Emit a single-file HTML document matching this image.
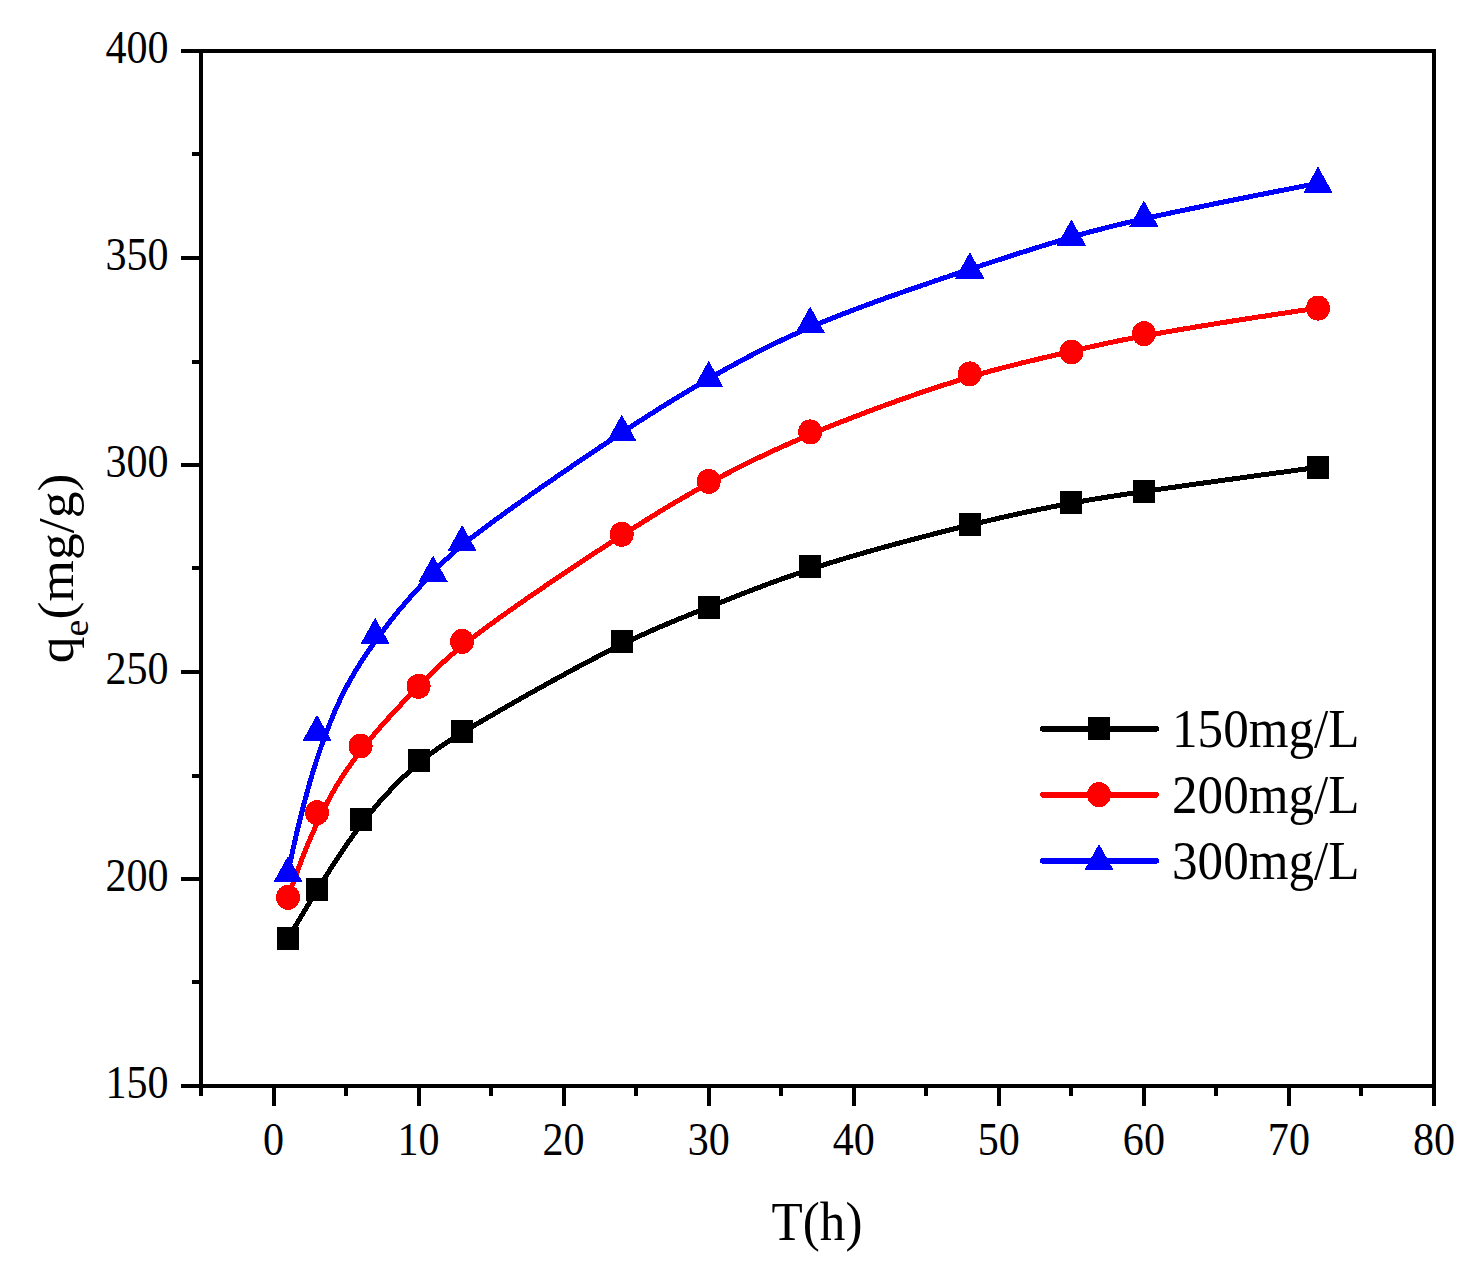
<!DOCTYPE html>
<html><head><meta charset="utf-8"><title>chart</title>
<style>
html,body{margin:0;padding:0;background:#fff;}
svg{display:block}
text{font-family:"Liberation Serif","Times New Roman",serif;fill:#000}
</style></head><body>
<svg width="1477" height="1286" viewBox="0 0 1477 1286">
<rect width="1477" height="1286" fill="#fff"/>
<g shape-rendering="crispEdges">
<polyline points="288.0,938.5 289.6,935.9 291.1,933.3 292.7,930.7 294.2,928.1 295.7,925.6 297.2,923.1 298.7,920.6 300.2,918.1 301.6,915.7 303.1,913.3 304.5,910.9 305.9,908.6 307.3,906.2 308.7,903.9 310.1,901.6 311.5,899.4 312.9,897.1 314.2,894.9 315.5,892.7 316.9,890.6 318.2,888.4 319.5,886.3 320.8,884.2 322.1,882.1 323.4,880.1 324.7,878.0 326.0,876.0 327.2,874.0 328.5,872.1 329.7,870.1 331.0,868.2 332.2,866.3 333.4,864.4 334.6,862.5 335.8,860.7 337.0,858.8 338.2,857.0 339.4,855.2 340.6,853.5 341.8,851.7 342.9,850.0 344.1,848.3 345.3,846.6 346.4,844.9 347.6,843.2 348.7,841.6 349.9,840.0 351.0,838.4 352.1,836.8 353.3,835.2 354.4,833.6 355.5,832.1 356.6,830.6 357.7,829.0 358.9,827.6 360.0,826.1 361.1,824.6 362.2,823.2 363.3,821.7 364.4,820.3 365.5,818.9 366.6,817.5 367.7,816.1 368.8,814.8 369.9,813.4 371.0,812.1 372.0,810.8 373.1,809.5 374.2,808.2 375.3,806.9 376.3,805.7 377.4,804.4 378.5,803.2 379.5,802.0 380.6,800.8 381.7,799.6 382.7,798.4 383.8,797.2 384.8,796.1 385.8,794.9 386.9,793.8 387.9,792.7 389.0,791.6 390.0,790.5 391.0,789.4 392.0,788.3 393.0,787.3 394.1,786.3 395.1,785.2 396.1,784.2 397.1,783.2 398.1,782.2 399.1,781.2 400.1,780.3 401.1,779.3 402.0,778.3 403.0,777.4 404.0,776.5 405.0,775.6 405.9,774.7 406.9,773.8 407.8,772.9 408.8,772.0 409.8,771.2 410.7,770.3 411.6,769.5 412.6,768.6 413.5,767.8 414.4,767.0 415.4,766.2 416.3,765.4 417.2,764.6 418.1,763.8 419.0,763.1 419.9,762.3 420.8,761.6 421.7,760.8 422.6,760.1 423.5,759.3 424.4,758.6 425.3,757.9 426.2,757.2 427.1,756.5 428.1,755.8 429.0,755.0 429.9,754.3 430.8,753.6 431.8,752.9 432.7,752.2 433.7,751.5 434.7,750.8 435.7,750.1 436.6,749.4 437.6,748.7 438.7,748.0 439.7,747.3 440.7,746.6 441.8,745.8 442.9,745.1 444.0,744.4 445.1,743.6 446.2,742.9 447.4,742.1 448.5,741.4 449.7,740.6 450.9,739.8 452.2,739.0 453.4,738.2 454.7,737.4 456.0,736.6 457.3,735.8 458.7,734.9 460.1,734.1 461.5,733.2 462.9,732.3 464.4,731.5 465.9,730.5 467.4,729.6 469.0,728.7 470.6,727.7 472.2,726.8 473.9,725.8 475.5,724.8 477.3,723.7 479.0,722.7 480.8,721.6 482.7,720.6 484.6,719.5 486.5,718.3 488.4,717.2 490.4,716.0 492.4,714.9 494.4,713.7 496.5,712.5 498.6,711.3 500.7,710.0 502.9,708.8 505.1,707.5 507.3,706.3 509.5,705.0 511.8,703.7 514.1,702.4 516.4,701.1 518.7,699.8 521.0,698.4 523.4,697.1 525.7,695.8 528.1,694.4 530.5,693.1 532.9,691.7 535.3,690.4 537.8,689.0 540.2,687.6 542.7,686.3 545.1,684.9 547.6,683.6 550.0,682.2 552.5,680.8 555.0,679.5 557.5,678.1 559.9,676.7 562.4,675.4 564.9,674.1 567.4,672.7 569.8,671.4 572.3,670.1 574.7,668.7 577.2,667.4 579.6,666.1 582.1,664.8 584.5,663.5 586.9,662.3 589.3,661.0 591.7,659.8 594.0,658.5 596.4,657.3 598.7,656.1 601.0,654.9 603.3,653.7 605.6,652.6 607.8,651.4 610.1,650.3 612.3,649.2 614.5,648.1 616.6,647.0 618.8,646.0 620.9,644.9 623.0,643.9 625.1,642.9 627.1,641.9 629.2,641.0 631.2,640.0 633.2,639.1 635.2,638.1 637.1,637.2 639.1,636.3 641.0,635.4 642.9,634.6 644.8,633.7 646.7,632.8 648.6,632.0 650.4,631.2 652.3,630.4 654.1,629.5 655.9,628.7 657.7,628.0 659.5,627.2 661.3,626.4 663.1,625.7 664.9,624.9 666.6,624.2 668.4,623.4 670.1,622.7 671.8,622.0 673.6,621.3 675.3,620.5 677.0,619.8 678.7,619.1 680.4,618.4 682.1,617.7 683.8,617.1 685.5,616.4 687.2,615.7 688.9,615.0 690.5,614.3 692.2,613.7 693.9,613.0 695.6,612.3 697.3,611.7 698.9,611.0 700.6,610.3 702.3,609.7 704.0,609.0 705.7,608.3 707.4,607.7 709.0,607.0 710.7,606.3 712.4,605.6 714.2,605.0 715.9,604.3 717.6,603.6 719.3,602.9 721.0,602.2 722.8,601.5 724.5,600.9 726.3,600.2 728.0,599.5 729.8,598.8 731.5,598.1 733.3,597.4 735.1,596.7 736.9,596.0 738.7,595.2 740.5,594.5 742.3,593.8 744.2,593.1 746.0,592.4 747.9,591.7 749.7,591.0 751.6,590.2 753.5,589.5 755.4,588.8 757.3,588.1 759.2,587.4 761.1,586.6 763.0,585.9 765.0,585.2 766.9,584.4 768.9,583.7 770.9,583.0 772.9,582.2 774.9,581.5 776.9,580.8 779.0,580.0 781.0,579.3 783.1,578.6 785.2,577.8 787.3,577.1 789.4,576.3 791.5,575.6 793.7,574.8 795.8,574.1 798.0,573.3 800.2,572.6 802.4,571.9 804.6,571.1 806.9,570.4 809.1,569.6 811.4,568.9 813.7,568.1 816.0,567.4 818.4,566.6 820.7,565.8 823.1,565.1 825.5,564.3 827.9,563.6 830.3,562.8 832.7,562.1 835.2,561.3 837.6,560.6 840.1,559.8 842.6,559.1 845.1,558.3 847.7,557.6 850.2,556.8 852.7,556.1 855.3,555.3 857.8,554.6 860.4,553.9 863.0,553.1 865.6,552.4 868.1,551.6 870.7,550.9 873.3,550.2 875.9,549.4 878.6,548.7 881.2,548.0 883.8,547.3 886.4,546.5 889.0,545.8 891.6,545.1 894.2,544.4 896.9,543.7 899.5,543.0 902.1,542.3 904.7,541.6 907.3,540.9 909.9,540.2 912.5,539.5 915.1,538.8 917.7,538.2 920.2,537.5 922.8,536.8 925.4,536.2 927.9,535.5 930.4,534.9 933.0,534.2 935.5,533.6 938.0,532.9 940.5,532.3 943.0,531.7 945.4,531.1 947.9,530.4 950.3,529.8 952.7,529.2 955.1,528.6 957.5,528.0 959.9,527.5 962.2,526.9 964.6,526.3 966.9,525.8 969.2,525.2 971.4,524.6 973.7,524.1 975.9,523.6 978.2,523.0 980.4,522.5 982.6,522.0 984.7,521.5 986.9,521.0 989.1,520.5 991.2,520.0 993.3,519.5 995.4,519.0 997.5,518.5 999.6,518.0 1001.7,517.5 1003.7,517.1 1005.8,516.6 1007.8,516.2 1009.9,515.7 1011.9,515.3 1013.9,514.8 1015.9,514.4 1017.9,513.9 1019.9,513.5 1021.8,513.1 1023.8,512.7 1025.8,512.2 1027.7,511.8 1029.6,511.4 1031.6,511.0 1033.5,510.6 1035.4,510.2 1037.4,509.8 1039.3,509.4 1041.2,509.0 1043.1,508.6 1045.0,508.3 1046.9,507.9 1048.8,507.5 1050.7,507.1 1052.6,506.8 1054.5,506.4 1056.4,506.0 1058.3,505.7 1060.2,505.3 1062.0,504.9 1063.9,504.6 1065.8,504.2 1067.7,503.9 1069.6,503.5 1071.5,503.2 1073.4,502.8 1075.3,502.5 1077.2,502.1 1079.1,501.8 1081.1,501.4 1083.1,501.1 1085.0,500.7 1087.1,500.4 1089.1,500.0 1091.3,499.7 1093.4,499.3 1095.6,498.9 1097.9,498.6 1100.2,498.2 1102.6,497.8 1105.1,497.4 1107.6,497.0 1110.3,496.6 1113.0,496.2 1115.8,495.7 1118.7,495.3 1121.7,494.8 1124.8,494.3 1128.0,493.9 1131.3,493.4 1134.8,492.8 1138.4,492.3 1142.1,491.8 1145.9,491.2 1149.9,490.6 1154.0,490.0 1158.3,489.4 1162.7,488.8 1167.3,488.1 1172.0,487.5 1177.0,486.8 1182.1,486.0 1187.3,485.3 1192.8,484.5 1198.4,483.7 1204.2,482.9 1210.3,482.1 1216.5,481.2 1222.9,480.3 1229.6,479.4 1236.4,478.5 1243.5,477.5 1250.8,476.5 1258.3,475.4 1266.1,474.4 1274.1,473.3 1282.4,472.2 1290.9,471.0 1299.6,469.8 1308.7,468.6 1318.0,467.3" fill="none" stroke="#000" stroke-width="5" stroke-linejoin="round"/>
<rect x="277.0" y="927.0" width="22" height="23" fill="#000"/>
<rect x="306.0" y="878.0" width="22" height="23" fill="#000"/>
<rect x="349.6" y="807.5" width="22" height="23" fill="#000"/>
<rect x="407.6" y="749.1" width="22" height="23" fill="#000"/>
<rect x="451.1" y="720.0" width="22" height="23" fill="#000"/>
<rect x="610.7" y="629.6" width="22" height="23" fill="#000"/>
<rect x="697.7" y="595.9" width="22" height="23" fill="#000"/>
<rect x="799.2" y="554.8" width="22" height="23" fill="#000"/>
<rect x="958.8" y="512.5" width="22" height="23" fill="#000"/>
<rect x="1060.4" y="490.6" width="22" height="23" fill="#000"/>
<rect x="1132.9" y="479.5" width="22" height="23" fill="#000"/>
<rect x="1307.0" y="455.8" width="22" height="23" fill="#000"/>
<polyline points="288.0,897.3 289.6,892.8 291.1,888.3 292.7,884.0 294.2,879.8 295.7,875.6 297.2,871.6 298.7,867.6 300.2,863.7 301.6,860.0 303.1,856.3 304.5,852.7 305.9,849.1 307.3,845.7 308.7,842.3 310.1,839.0 311.5,835.8 312.9,832.7 314.2,829.6 315.5,826.6 316.9,823.7 318.2,820.8 319.5,818.0 320.8,815.3 322.1,812.6 323.4,810.0 324.7,807.5 326.0,805.0 327.2,802.6 328.5,800.2 329.7,797.9 331.0,795.7 332.2,793.5 333.4,791.3 334.6,789.2 335.8,787.2 337.0,785.1 338.2,783.2 339.4,781.2 340.6,779.4 341.8,777.5 342.9,775.7 344.1,773.9 345.3,772.2 346.4,770.5 347.6,768.8 348.7,767.1 349.9,765.5 351.0,763.9 352.1,762.4 353.3,760.8 354.4,759.3 355.5,757.8 356.6,756.3 357.7,754.8 358.9,753.4 360.0,751.9 361.1,750.5 362.2,749.1 363.3,747.7 364.4,746.3 365.5,744.9 366.6,743.6 367.7,742.2 368.8,740.9 369.9,739.5 371.0,738.2 372.0,736.9 373.1,735.6 374.2,734.3 375.3,733.1 376.3,731.8 377.4,730.6 378.5,729.3 379.5,728.1 380.6,726.9 381.7,725.7 382.7,724.5 383.8,723.3 384.8,722.1 385.8,720.9 386.9,719.8 387.9,718.6 389.0,717.5 390.0,716.4 391.0,715.2 392.0,714.1 393.0,713.0 394.1,711.9 395.1,710.8 396.1,709.7 397.1,708.7 398.1,707.6 399.1,706.6 400.1,705.5 401.1,704.5 402.0,703.4 403.0,702.4 404.0,701.4 405.0,700.4 405.9,699.4 406.9,698.4 407.8,697.4 408.8,696.4 409.8,695.4 410.7,694.4 411.6,693.4 412.6,692.5 413.5,691.5 414.4,690.6 415.4,689.6 416.3,688.7 417.2,687.7 418.1,686.8 419.0,685.9 419.9,684.9 420.8,684.0 421.7,683.1 422.6,682.2 423.5,681.2 424.4,680.3 425.3,679.4 426.2,678.5 427.1,677.6 428.1,676.6 429.0,675.7 429.9,674.8 430.8,673.9 431.8,673.0 432.7,672.0 433.7,671.1 434.7,670.2 435.7,669.2 436.6,668.3 437.6,667.3 438.7,666.4 439.7,665.4 440.7,664.4 441.8,663.5 442.9,662.5 444.0,661.5 445.1,660.5 446.2,659.5 447.4,658.5 448.5,657.4 449.7,656.4 450.9,655.4 452.2,654.3 453.4,653.2 454.7,652.1 456.0,651.1 457.3,649.9 458.7,648.8 460.1,647.7 461.5,646.5 462.9,645.4 464.4,644.2 465.9,643.0 467.4,641.8 469.0,640.6 470.6,639.3 472.2,638.1 473.9,636.8 475.5,635.5 477.3,634.2 479.0,632.8 480.8,631.5 482.7,630.1 484.6,628.7 486.5,627.3 488.4,625.9 490.4,624.4 492.4,623.0 494.4,621.5 496.5,620.0 498.6,618.5 500.7,616.9 502.9,615.4 505.1,613.8 507.3,612.3 509.5,610.7 511.8,609.1 514.1,607.5 516.4,605.9 518.7,604.3 521.0,602.7 523.4,601.0 525.7,599.4 528.1,597.7 530.5,596.1 532.9,594.4 535.3,592.8 537.8,591.1 540.2,589.4 542.7,587.8 545.1,586.1 547.6,584.4 550.0,582.8 552.5,581.1 555.0,579.4 557.5,577.8 559.9,576.1 562.4,574.4 564.9,572.8 567.4,571.1 569.8,569.5 572.3,567.8 574.7,566.2 577.2,564.6 579.6,563.0 582.1,561.4 584.5,559.8 586.9,558.2 589.3,556.6 591.7,555.0 594.0,553.5 596.4,551.9 598.7,550.4 601.0,548.9 603.3,547.4 605.6,545.9 607.8,544.5 610.1,543.0 612.3,541.6 614.5,540.2 616.6,538.8 618.8,537.4 620.9,536.0 623.0,534.7 625.1,533.4 627.1,532.0 629.2,530.7 631.2,529.5 633.2,528.2 635.2,526.9 637.1,525.7 639.1,524.5 641.0,523.2 642.9,522.0 644.8,520.8 646.7,519.7 648.6,518.5 650.4,517.3 652.3,516.2 654.1,515.1 655.9,514.0 657.7,512.8 659.5,511.8 661.3,510.7 663.1,509.6 664.9,508.5 666.6,507.5 668.4,506.4 670.1,505.4 671.8,504.3 673.6,503.3 675.3,502.3 677.0,501.3 678.7,500.3 680.4,499.3 682.1,498.3 683.8,497.3 685.5,496.3 687.2,495.4 688.9,494.4 690.5,493.4 692.2,492.5 693.9,491.5 695.6,490.6 697.3,489.6 698.9,488.7 700.6,487.7 702.3,486.8 704.0,485.9 705.7,484.9 707.4,484.0 709.0,483.1 710.7,482.2 712.4,481.2 714.2,480.3 715.9,479.4 717.6,478.5 719.3,477.6 721.0,476.6 722.8,475.7 724.5,474.8 726.3,473.9 728.0,473.0 729.8,472.1 731.5,471.1 733.3,470.2 735.1,469.3 736.9,468.4 738.7,467.5 740.5,466.6 742.3,465.7 744.2,464.7 746.0,463.8 747.9,462.9 749.7,462.0 751.6,461.1 753.5,460.2 755.4,459.2 757.3,458.3 759.2,457.4 761.1,456.5 763.0,455.6 765.0,454.7 766.9,453.7 768.9,452.8 770.9,451.9 772.9,451.0 774.9,450.0 776.9,449.1 779.0,448.2 781.0,447.2 783.1,446.3 785.2,445.4 787.3,444.4 789.4,443.5 791.5,442.6 793.7,441.6 795.8,440.7 798.0,439.7 800.2,438.8 802.4,437.8 804.6,436.9 806.9,435.9 809.1,435.0 811.4,434.0 813.7,433.1 816.0,432.1 818.4,431.1 820.7,430.2 823.1,429.2 825.5,428.2 827.9,427.2 830.3,426.3 832.7,425.3 835.2,424.3 837.6,423.3 840.1,422.3 842.6,421.4 845.1,420.4 847.7,419.4 850.2,418.4 852.7,417.4 855.3,416.4 857.8,415.5 860.4,414.5 863.0,413.5 865.6,412.5 868.1,411.5 870.7,410.6 873.3,409.6 875.9,408.6 878.6,407.7 881.2,406.7 883.8,405.7 886.4,404.8 889.0,403.8 891.6,402.9 894.2,402.0 896.9,401.0 899.5,400.1 902.1,399.2 904.7,398.2 907.3,397.3 909.9,396.4 912.5,395.5 915.1,394.6 917.7,393.7 920.2,392.9 922.8,392.0 925.4,391.1 927.9,390.3 930.4,389.4 933.0,388.6 935.5,387.8 938.0,386.9 940.5,386.1 943.0,385.3 945.4,384.5 947.9,383.7 950.3,383.0 952.7,382.2 955.1,381.5 957.5,380.7 959.9,380.0 962.2,379.3 964.6,378.6 966.9,377.9 969.2,377.2 971.4,376.5 973.7,375.9 975.9,375.2 978.2,374.6 980.4,373.9 982.6,373.3 984.7,372.7 986.9,372.1 989.1,371.5 991.2,370.9 993.3,370.4 995.4,369.8 997.5,369.2 999.6,368.7 1001.7,368.1 1003.7,367.6 1005.8,367.1 1007.8,366.5 1009.9,366.0 1011.9,365.5 1013.9,365.0 1015.9,364.5 1017.9,364.0 1019.9,363.5 1021.8,363.0 1023.8,362.5 1025.8,362.1 1027.7,361.6 1029.6,361.1 1031.6,360.7 1033.5,360.2 1035.4,359.7 1037.4,359.3 1039.3,358.8 1041.2,358.4 1043.1,357.9 1045.0,357.5 1046.9,357.0 1048.8,356.6 1050.7,356.2 1052.6,355.7 1054.5,355.3 1056.4,354.8 1058.3,354.4 1060.2,354.0 1062.0,353.5 1063.9,353.1 1065.8,352.6 1067.7,352.2 1069.6,351.8 1071.5,351.3 1073.4,350.9 1075.3,350.4 1077.2,350.0 1079.1,349.5 1081.1,349.1 1083.1,348.6 1085.0,348.1 1087.1,347.7 1089.1,347.2 1091.3,346.7 1093.4,346.2 1095.6,345.7 1097.9,345.2 1100.2,344.7 1102.6,344.2 1105.1,343.7 1107.6,343.1 1110.3,342.6 1113.0,342.0 1115.8,341.4 1118.7,340.8 1121.7,340.2 1124.8,339.6 1128.0,339.0 1131.3,338.3 1134.8,337.7 1138.4,337.0 1142.1,336.3 1145.9,335.6 1149.9,334.9 1154.0,334.1 1158.3,333.4 1162.7,332.6 1167.3,331.8 1172.0,331.0 1177.0,330.1 1182.1,329.2 1187.3,328.4 1192.8,327.5 1198.4,326.5 1204.2,325.6 1210.3,324.6 1216.5,323.6 1222.9,322.6 1229.6,321.5 1236.4,320.4 1243.5,319.3 1250.8,318.2 1258.3,317.0 1266.1,315.9 1274.1,314.6 1282.4,313.4 1290.9,312.1 1299.6,310.8 1308.7,309.5 1318.0,308.1" fill="none" stroke="#f00" stroke-width="5" stroke-linejoin="round"/>
<ellipse cx="288.0" cy="897.3" rx="12" ry="12.5" fill="#f00"/>
<ellipse cx="317.0" cy="812.7" rx="12" ry="12.5" fill="#f00"/>
<ellipse cx="360.6" cy="746.0" rx="12" ry="12.5" fill="#f00"/>
<ellipse cx="418.6" cy="686.3" rx="12" ry="12.5" fill="#f00"/>
<ellipse cx="462.1" cy="641.4" rx="12" ry="12.5" fill="#f00"/>
<ellipse cx="621.7" cy="534.3" rx="12" ry="12.5" fill="#f00"/>
<ellipse cx="708.7" cy="481.4" rx="12" ry="12.5" fill="#f00"/>
<ellipse cx="810.2" cy="431.9" rx="12" ry="12.5" fill="#f00"/>
<ellipse cx="969.8" cy="373.9" rx="12" ry="12.5" fill="#f00"/>
<ellipse cx="1071.4" cy="352.0" rx="12" ry="12.5" fill="#f00"/>
<ellipse cx="1143.9" cy="333.7" rx="12" ry="12.5" fill="#f00"/>
<ellipse cx="1318.0" cy="308.1" rx="12" ry="12.5" fill="#f00"/>
<polyline points="288.0,872.7 289.6,865.1 291.2,857.8 292.7,850.6 294.3,843.6 295.9,836.7 297.4,830.0 299.0,823.5 300.6,817.1 302.1,810.9 303.7,804.9 305.3,799.0 306.8,793.2 308.4,787.7 309.9,782.2 311.5,776.9 313.0,771.7 314.6,766.7 316.1,761.8 317.7,757.0 319.2,752.4 320.7,747.9 322.3,743.5 323.8,739.2 325.3,735.1 326.8,731.0 328.4,727.1 329.9,723.3 331.4,719.6 332.9,715.9 334.4,712.4 335.9,709.0 337.3,705.7 338.8,702.5 340.3,699.3 341.8,696.3 343.2,693.3 344.7,690.4 346.1,687.6 347.6,684.9 349.0,682.2 350.4,679.7 351.9,677.1 353.3,674.7 354.7,672.3 356.1,670.0 357.5,667.7 358.9,665.4 360.2,663.3 361.6,661.1 363.0,659.1 364.3,657.0 365.7,655.0 367.0,653.0 368.3,651.1 369.7,649.2 371.0,647.3 372.3,645.5 373.5,643.7 374.8,641.9 376.1,640.1 377.4,638.4 378.6,636.7 379.8,635.0 381.1,633.3 382.3,631.7 383.5,630.1 384.7,628.5 385.9,626.9 387.1,625.4 388.3,623.8 389.4,622.3 390.6,620.9 391.7,619.4 392.9,618.0 394.0,616.6 395.1,615.2 396.2,613.8 397.3,612.4 398.4,611.1 399.5,609.8 400.6,608.5 401.6,607.3 402.7,606.0 403.7,604.8 404.8,603.6 405.8,602.4 406.8,601.2 407.8,600.0 408.8,598.9 409.8,597.8 410.8,596.6 411.7,595.5 412.7,594.5 413.7,593.4 414.6,592.4 415.5,591.3 416.4,590.3 417.4,589.3 418.3,588.3 419.2,587.4 420.0,586.4 420.9,585.4 421.8,584.5 422.6,583.6 423.5,582.7 424.3,581.8 425.1,580.9 426.0,580.0 426.8,579.2 427.6,578.3 428.3,577.5 429.1,576.6 429.9,575.8 430.7,575.0 431.4,574.2 432.2,573.4 432.9,572.6 433.7,571.8 434.4,571.1 435.1,570.3 435.9,569.5 436.6,568.8 437.3,568.0 438.1,567.2 438.8,566.5 439.6,565.7 440.3,565.0 441.1,564.2 441.9,563.4 442.6,562.7 443.4,561.9 444.2,561.2 445.0,560.4 445.8,559.6 446.6,558.9 447.5,558.1 448.3,557.3 449.2,556.5 450.1,555.7 451.0,554.9 451.9,554.1 452.8,553.2 453.8,552.4 454.7,551.5 455.7,550.7 456.8,549.8 457.8,548.9 458.9,548.0 460.0,547.1 461.1,546.2 462.2,545.2 463.4,544.3 464.6,543.3 465.8,542.3 467.1,541.3 468.4,540.3 469.7,539.2 471.1,538.2 472.5,537.1 473.9,536.0 475.4,534.8 476.9,533.7 478.4,532.5 480.0,531.3 481.6,530.1 483.3,528.8 485.0,527.6 486.8,526.3 488.5,524.9 490.4,523.6 492.2,522.2 494.1,520.8 496.1,519.4 498.1,518.0 500.1,516.5 502.1,515.0 504.2,513.5 506.3,512.0 508.4,510.5 510.6,509.0 512.7,507.4 515.0,505.8 517.2,504.3 519.4,502.7 521.7,501.0 524.0,499.4 526.3,497.8 528.7,496.2 531.0,494.5 533.4,492.8 535.8,491.2 538.1,489.5 540.5,487.8 543.0,486.2 545.4,484.5 547.8,482.8 550.3,481.1 552.7,479.4 555.2,477.7 557.6,476.0 560.1,474.3 562.5,472.6 565.0,471.0 567.4,469.3 569.9,467.6 572.3,465.9 574.8,464.3 577.2,462.6 579.7,460.9 582.1,459.3 584.5,457.7 586.9,456.0 589.3,454.4 591.7,452.8 594.0,451.2 596.4,449.6 598.7,448.1 601.0,446.5 603.3,445.0 605.6,443.5 607.8,442.0 610.1,440.5 612.3,439.0 614.5,437.6 616.6,436.1 618.8,434.7 620.9,433.3 623.0,431.9 625.1,430.6 627.1,429.2 629.2,427.9 631.2,426.6 633.2,425.3 635.2,424.0 637.1,422.7 639.1,421.4 641.0,420.2 642.9,419.0 644.8,417.7 646.7,416.5 648.6,415.3 650.4,414.1 652.3,413.0 654.1,411.8 655.9,410.7 657.7,409.5 659.5,408.4 661.3,407.3 663.1,406.2 664.9,405.1 666.6,404.0 668.4,402.9 670.1,401.8 671.8,400.8 673.6,399.7 675.3,398.6 677.0,397.6 678.7,396.6 680.4,395.5 682.1,394.5 683.8,393.5 685.5,392.5 687.2,391.5 688.9,390.5 690.5,389.5 692.2,388.5 693.9,387.5 695.6,386.5 697.3,385.5 698.9,384.5 700.6,383.5 702.3,382.5 704.0,381.6 705.7,380.6 707.4,379.6 709.0,378.6 710.7,377.7 712.4,376.7 714.2,375.7 715.9,374.7 717.6,373.7 719.3,372.8 721.0,371.8 722.8,370.8 724.5,369.8 726.3,368.9 728.0,367.9 729.8,366.9 731.5,365.9 733.3,365.0 735.1,364.0 736.9,363.0 738.7,362.0 740.5,361.0 742.3,360.1 744.2,359.1 746.0,358.1 747.9,357.1 749.7,356.2 751.6,355.2 753.5,354.2 755.4,353.2 757.3,352.2 759.2,351.3 761.1,350.3 763.0,349.3 765.0,348.3 766.9,347.4 768.9,346.4 770.9,345.4 772.9,344.4 774.9,343.4 776.9,342.5 779.0,341.5 781.0,340.5 783.1,339.5 785.2,338.5 787.3,337.6 789.4,336.6 791.5,335.6 793.7,334.6 795.8,333.7 798.0,332.7 800.2,331.7 802.4,330.7 804.6,329.7 806.9,328.8 809.1,327.8 811.4,326.8 813.7,325.8 816.0,324.8 818.4,323.9 820.7,322.9 823.1,321.9 825.5,320.9 827.9,320.0 830.3,319.0 832.7,318.0 835.2,317.0 837.6,316.1 840.1,315.1 842.6,314.1 845.1,313.1 847.7,312.2 850.2,311.2 852.7,310.2 855.3,309.3 857.8,308.3 860.4,307.3 863.0,306.4 865.6,305.4 868.1,304.5 870.7,303.5 873.3,302.6 875.9,301.6 878.6,300.7 881.2,299.7 883.8,298.8 886.4,297.8 889.0,296.9 891.6,296.0 894.2,295.1 896.9,294.1 899.5,293.2 902.1,292.3 904.7,291.4 907.3,290.5 909.9,289.6 912.5,288.7 915.1,287.8 917.7,286.9 920.2,286.0 922.8,285.1 925.4,284.3 927.9,283.4 930.4,282.5 933.0,281.7 935.5,280.8 938.0,280.0 940.5,279.1 943.0,278.3 945.4,277.5 947.9,276.7 950.3,275.8 952.7,275.0 955.1,274.2 957.5,273.4 959.9,272.7 962.2,271.9 964.6,271.1 966.9,270.3 969.2,269.6 971.4,268.8 973.7,268.1 975.9,267.3 978.2,266.6 980.4,265.9 982.6,265.1 984.7,264.4 986.9,263.7 989.1,263.0 991.2,262.3 993.3,261.6 995.4,260.9 997.5,260.2 999.6,259.5 1001.7,258.9 1003.7,258.2 1005.8,257.5 1007.8,256.9 1009.9,256.2 1011.9,255.6 1013.9,254.9 1015.9,254.3 1017.9,253.7 1019.9,253.0 1021.8,252.4 1023.8,251.8 1025.8,251.2 1027.7,250.5 1029.6,249.9 1031.6,249.3 1033.5,248.7 1035.4,248.1 1037.4,247.5 1039.3,246.9 1041.2,246.3 1043.1,245.7 1045.0,245.2 1046.9,244.6 1048.8,244.0 1050.7,243.4 1052.6,242.8 1054.5,242.3 1056.4,241.7 1058.3,241.1 1060.2,240.6 1062.0,240.0 1063.9,239.5 1065.8,238.9 1067.7,238.3 1069.6,237.8 1071.5,237.2 1073.4,236.7 1075.3,236.1 1077.2,235.6 1079.1,235.0 1081.1,234.5 1083.1,233.9 1085.0,233.3 1087.1,232.8 1089.1,232.2 1091.3,231.6 1093.4,231.1 1095.6,230.5 1097.9,229.9 1100.2,229.3 1102.6,228.6 1105.1,228.0 1107.6,227.4 1110.3,226.7 1113.0,226.0 1115.8,225.3 1118.7,224.6 1121.7,223.9 1124.8,223.2 1128.0,222.4 1131.3,221.7 1134.8,220.9 1138.4,220.1 1142.1,219.2 1145.9,218.4 1149.9,217.5 1154.0,216.6 1158.3,215.6 1162.7,214.7 1167.3,213.7 1172.0,212.7 1177.0,211.6 1182.1,210.6 1187.3,209.5 1192.8,208.3 1198.4,207.2 1204.2,206.0 1210.3,204.7 1216.5,203.4 1222.9,202.1 1229.6,200.8 1236.4,199.4 1243.5,198.0 1250.8,196.5 1258.3,195.0 1266.1,193.5 1274.1,191.9 1282.4,190.3 1290.9,188.6 1299.6,186.9 1308.7,185.1 1318.0,183.3" fill="none" stroke="#00f" stroke-width="5" stroke-linejoin="round"/>
<polygon points="273.4,882.2 302.6,882.2 288.0,855.9" fill="#00f"/>
<polygon points="302.4,741.0 331.6,741.0 317.0,714.7" fill="#00f"/>
<polygon points="360.5,644.0 389.7,644.0 375.1,617.7" fill="#00f"/>
<polygon points="418.5,581.8 447.7,581.8 433.1,555.5" fill="#00f"/>
<polygon points="447.5,551.2 476.7,551.2 462.1,524.9" fill="#00f"/>
<polygon points="607.1,440.9 636.3,440.9 621.7,414.6" fill="#00f"/>
<polygon points="694.1,387.0 723.3,387.0 708.7,360.7" fill="#00f"/>
<polygon points="795.6,332.7 824.8,332.7 810.2,306.4" fill="#00f"/>
<polygon points="955.2,278.5 984.4,278.5 969.8,252.2" fill="#00f"/>
<polygon points="1056.8,245.7 1086.0,245.7 1071.4,219.4" fill="#00f"/>
<polygon points="1129.3,226.7 1158.5,226.7 1143.9,200.4" fill="#00f"/>
<polygon points="1303.4,192.8 1332.6,192.8 1318.0,166.5" fill="#00f"/>
</g>
<g shape-rendering="crispEdges" fill="#000">
<rect x="199" y="49" width="1237" height="4"/>
<rect x="199" y="1084" width="1237" height="4"/>
<rect x="199" y="49" width="4" height="1039"/>
<rect x="1432" y="49" width="4" height="1039"/>
<rect x="181" y="1084" width="18" height="4"/>
<rect x="192" y="980" width="7" height="4"/>
<rect x="181" y="877" width="18" height="4"/>
<rect x="192" y="774" width="7" height="4"/>
<rect x="181" y="670" width="18" height="4"/>
<rect x="192" y="566" width="7" height="4"/>
<rect x="181" y="463" width="18" height="4"/>
<rect x="192" y="360" width="7" height="4"/>
<rect x="181" y="256" width="18" height="4"/>
<rect x="192" y="152" width="7" height="4"/>
<rect x="181" y="49" width="18" height="4"/>
<rect x="199" y="1088" width="4" height="8"/>
<rect x="272" y="1088" width="4" height="18"/>
<rect x="344" y="1088" width="4" height="8"/>
<rect x="417" y="1088" width="4" height="18"/>
<rect x="489" y="1088" width="4" height="8"/>
<rect x="562" y="1088" width="4" height="18"/>
<rect x="634" y="1088" width="4" height="8"/>
<rect x="707" y="1088" width="4" height="18"/>
<rect x="779" y="1088" width="4" height="8"/>
<rect x="852" y="1088" width="4" height="18"/>
<rect x="924" y="1088" width="4" height="8"/>
<rect x="997" y="1088" width="4" height="18"/>
<rect x="1069" y="1088" width="4" height="8"/>
<rect x="1142" y="1088" width="4" height="18"/>
<rect x="1214" y="1088" width="4" height="8"/>
<rect x="1287" y="1088" width="4" height="18"/>
<rect x="1359" y="1088" width="4" height="8"/>
<rect x="1432" y="1088" width="4" height="18"/>
</g>
<text transform="translate(168.5,1098.0) scale(0.895,1)" font-size="47" text-anchor="end">150</text>
<text transform="translate(168.5,891.0) scale(0.895,1)" font-size="47" text-anchor="end">200</text>
<text transform="translate(168.5,684.0) scale(0.895,1)" font-size="47" text-anchor="end">250</text>
<text transform="translate(168.5,477.0) scale(0.895,1)" font-size="47" text-anchor="end">300</text>
<text transform="translate(168.5,270.0) scale(0.895,1)" font-size="47" text-anchor="end">350</text>
<text transform="translate(168.5,63.0) scale(0.895,1)" font-size="47" text-anchor="end">400</text>
<text transform="translate(273.5,1154.5) scale(0.895,1)" font-size="47" text-anchor="middle">0</text>
<text transform="translate(418.6,1154.5) scale(0.895,1)" font-size="47" text-anchor="middle">10</text>
<text transform="translate(563.6,1154.5) scale(0.895,1)" font-size="47" text-anchor="middle">20</text>
<text transform="translate(708.7,1154.5) scale(0.895,1)" font-size="47" text-anchor="middle">30</text>
<text transform="translate(853.8,1154.5) scale(0.895,1)" font-size="47" text-anchor="middle">40</text>
<text transform="translate(998.8,1154.5) scale(0.895,1)" font-size="47" text-anchor="middle">50</text>
<text transform="translate(1143.9,1154.5) scale(0.895,1)" font-size="47" text-anchor="middle">60</text>
<text transform="translate(1288.9,1154.5) scale(0.895,1)" font-size="47" text-anchor="middle">70</text>
<text transform="translate(1434.0,1154.5) scale(0.895,1)" font-size="47" text-anchor="middle">80</text>
<text transform="translate(817,1240) scale(0.93,1)" font-size="55" text-anchor="middle">T(h)</text>
<text transform="translate(72.5,568.5) scale(0.93,0.975) rotate(-90)" font-size="55" text-anchor="middle">q<tspan font-size="39" dy="16.5">e</tspan><tspan dy="-16.5">(mg/g)</tspan></text>
<line x1="1043" y1="728.8" x2="1156" y2="728.8" stroke="#000" stroke-width="6" stroke-linecap="round" shape-rendering="crispEdges"/>
<g shape-rendering="crispEdges"><rect x="1088.0" y="717.3" width="22" height="23" fill="#000"/>
</g>
<text transform="translate(1172,746.7) scale(0.93,1)" font-size="55">150mg/L</text>
<line x1="1043" y1="794.6" x2="1156" y2="794.6" stroke="#f00" stroke-width="6" stroke-linecap="round" shape-rendering="crispEdges"/>
<g shape-rendering="crispEdges"><ellipse cx="1099.0" cy="794.6" rx="12" ry="12.5" fill="#f00"/>
</g>
<text transform="translate(1172,812.5) scale(0.93,1)" font-size="55">200mg/L</text>
<line x1="1043" y1="860.7" x2="1156" y2="860.7" stroke="#00f" stroke-width="6" stroke-linecap="round" shape-rendering="crispEdges"/>
<g shape-rendering="crispEdges"><polygon points="1084.4,870.2 1113.6,870.2 1099.0,843.9" fill="#00f"/>
</g>
<text transform="translate(1172,878.6) scale(0.93,1)" font-size="55">300mg/L</text>
</svg></body></html>
